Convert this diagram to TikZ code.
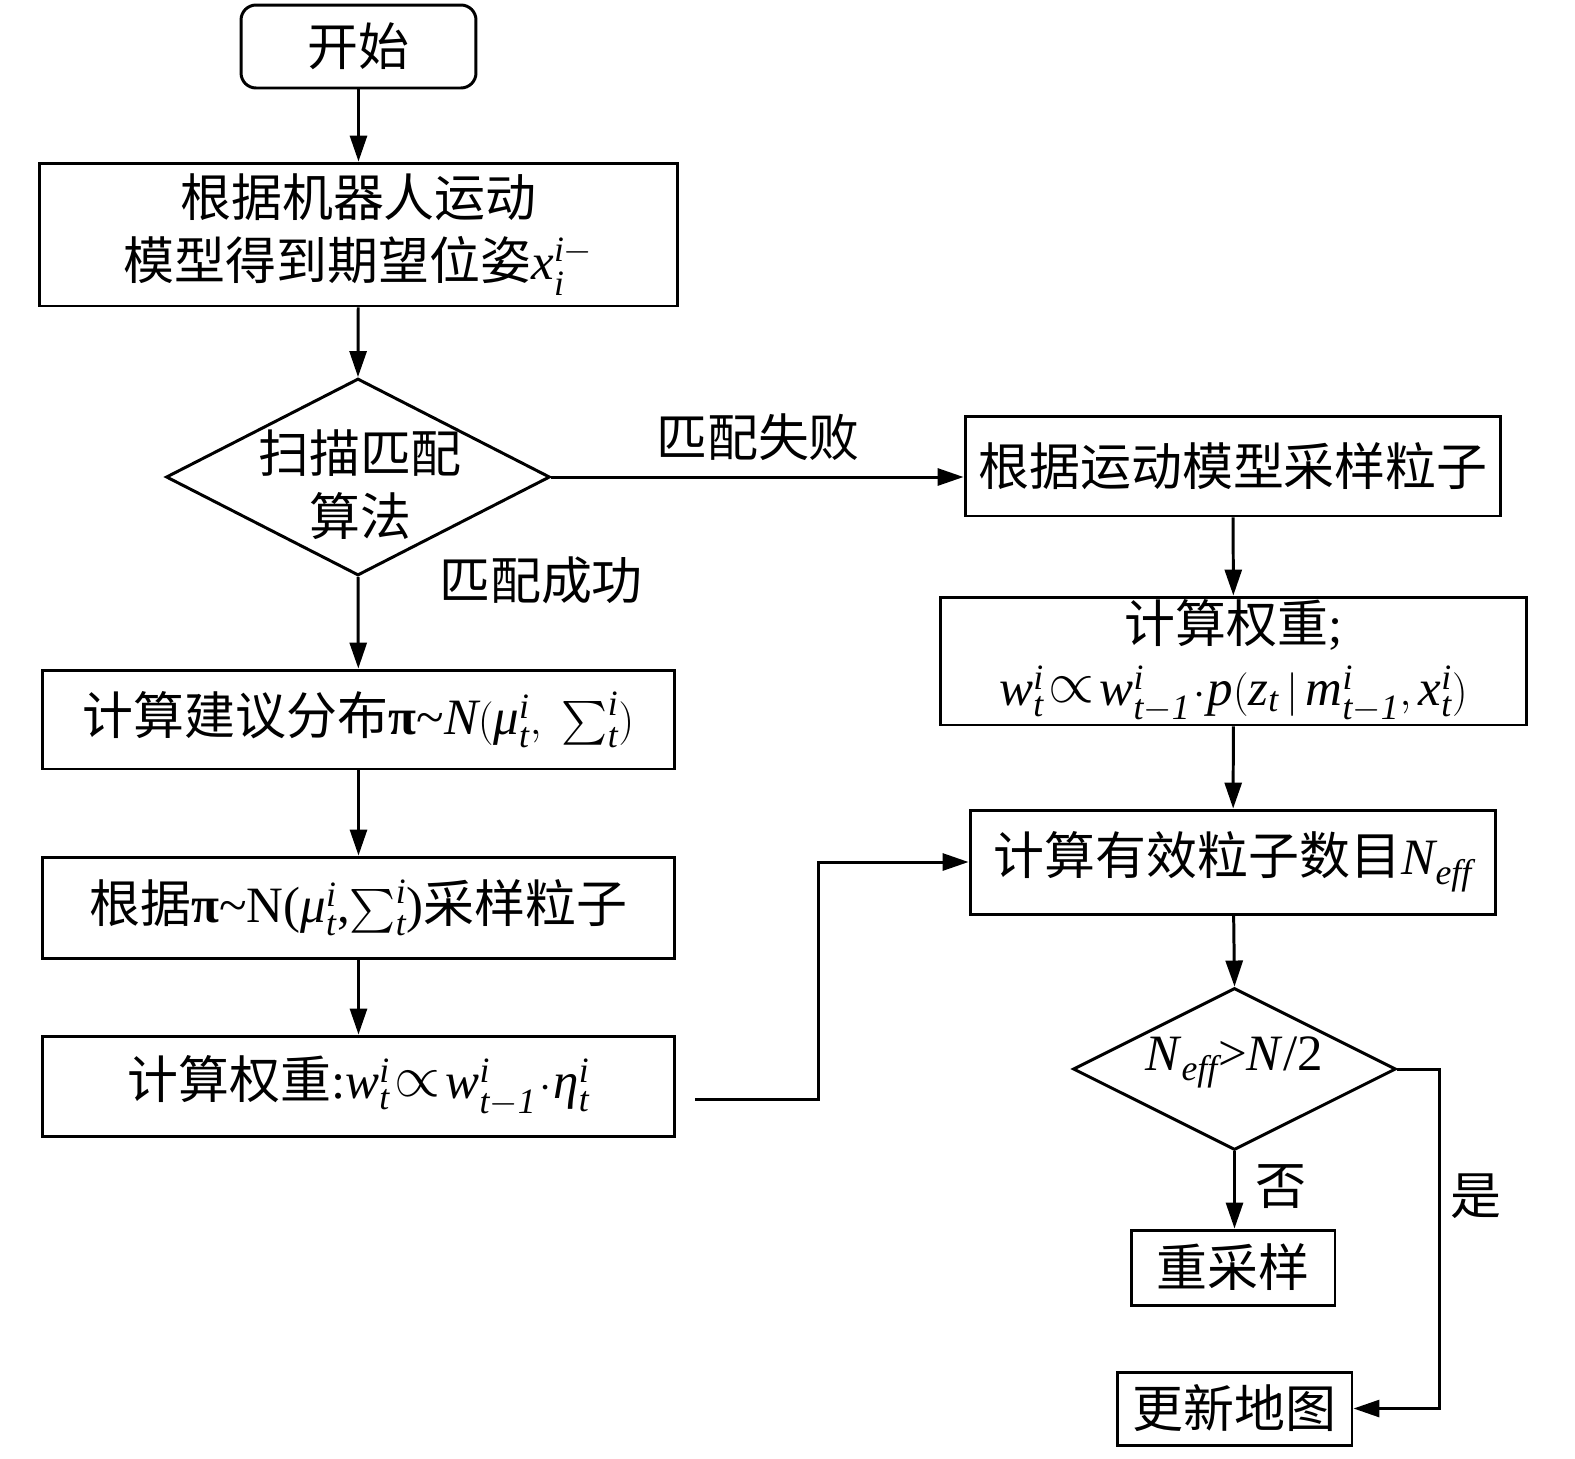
\documentclass[tikz,border=0pt]{standalone}
\usepackage{amsmath}
\usepackage{graphicx}
\usepackage{fontspec}
\setmainfont{Liberation Serif}
\newfontfamily\cjk{Noto Sans CJK SC}
\usetikzlibrary{shapes.geometric,arrows.meta,calc}
\newcommand\zh[1]{{\cjk #1}}
\newcommand\mi[1]{\mathit{#1}}
\newcommand\bigprop{\mathrel{\raisebox{0.1ex}{\scalebox{1.35}{$\propto$}}}}
\begin{document}
\begin{tikzpicture}[x=0.02cm,y=-0.02cm,
  line width=1.7pt,
  box/.style={draw, rectangle, inner sep=0pt, align=center, font=\fontsize{29}{36}\selectfont},
  dia/.style={draw, diamond, inner sep=0pt},
  txt/.style={inner sep=0pt, align=center, font=\fontsize{29}{36}\selectfont},
  lbl/.style={font=\fontsize{29}{36}\selectfont\cjk, inner sep=0pt},
  arr/.style={-{Triangle[length=0.52cm,width=0.34cm]}}]
\useasboundingbox (0,0) rectangle (1575,1458);

\node[box, minimum width=4.7cm, minimum height=1.66cm, rounded corners=0.3cm] (start) at (358.5,46.5) {\zh{开始}};
\node[box, minimum width=12.78cm, minimum height=2.86cm] (b1) at (358.5,234.5)
  {\zh{根据机器人运动}\\\zh{模型得到期望位姿}$\mi{x}_{\mi{i}}^{\mi{i}-}$};
\node[dia, minimum width=7.68cm, minimum height=3.94cm] (d1) at (358,477) {};
\node[txt] (d1t) at (360,485) {\zh{扫描匹配}\\\zh{算法}};
\node[box, minimum width=12.66cm, minimum height=1.98cm] (b3) at (358.5,719.5)
  {\zh{计算建议分布}\textbf{π}\textasciitilde$\mi{N}(\textit{μ}_{\mi t}^{\mi i},\ \sum\nolimits_{\mi t}^{\mi i})$};
\node[box, minimum width=12.66cm, minimum height=2.02cm] (b4) at (358.5,907.5)
  {\zh{根据}\textbf{π}\textasciitilde N($\textit{μ}_{\mi t}^{\mi i}$,$\sum\nolimits_{\mi t}^{\mi i}$)\zh{采样粒子}};
\node[box, minimum width=12.66cm, minimum height=2.0cm] (b5) at (358.5,1086)
  {\zh{计算权重}:$\mi{w}_{\mi t}^{\mi i}\!\bigprop\!\mi{w}_{\mi{t}-\mi{1}}^{\mi i}\!\cdot\!\textit{η}_{\mi t}^{\mi i}$};

\node[box, minimum width=10.72cm, minimum height=2.0cm] (r1) at (1233,466) {\zh{根据运动模型采样粒子}};
\node[box, minimum width=11.74cm, minimum height=2.56cm] (r2) at (1233.5,661)
  {\zh{计算权重};\\$\mi{w}_{\mi t}^{\mi i}\!\bigprop\!\mi{w}_{\mi t-\mi 1}^{\mi i}\!\cdot\!\mi{p}(\mi{z}_{\mi t}\,|\,\mi{m}_{\mi t-\mi 1}^{\mi i},\mi{x}_{\mi t}^{\mi i})$};
\node[box, minimum width=10.52cm, minimum height=2.08cm] (r3) at (1233,862)
  {\zh{计算有效粒子数目}$\mi{N}_{\mi{eff}}$};
\node[dia, minimum width=6.46cm, minimum height=3.24cm] (d2) at (1234.5,1069) {};
\node[txt] (d2t) at (1234,1062) {\textit{N}$_{\mi{eff}}$>\textit{N}/2};
\node[box, minimum width=4.08cm, minimum height=1.5cm] (rs) at (1233,1267.5) {\zh{重采样}};
\node[box, minimum width=4.7cm, minimum height=1.46cm] (upd) at (1234.5,1408.5) {\zh{更新地图}};

\coordinate (c5) at (695,1099);

\draw[arr] (start) -- (b1);
\draw[arr] (b1) -- (d1.north);
\draw[arr] (d1.south) -- (b3);
\draw[arr] (b3) -- (b4);
\draw[arr] (b4) -- (b5);
\draw[arr] (d1.east) -- (d1.east -| r1.west);
\draw[arr] (c5) -- ++(123,0) |- (r3.west);
\draw[arr] (r1) -- (r2);
\draw[arr] (r2) -- (r3);
\draw[arr] (r3) -- (d2.north);
\draw[arr] (d2.south) -- (d2.south |- rs.north);
\draw[arr] (d2.east) -- ++(42,0) |- (upd.east);

\node[lbl] (l1) at (758,437) {匹配失败};
\node[lbl] (l2) at (541,580) {匹配成功};
\node[lbl] (l3) at (1281,1187) {否};
\node[lbl] (l4) at (1476,1196) {是};
\end{tikzpicture}
\end{document}
